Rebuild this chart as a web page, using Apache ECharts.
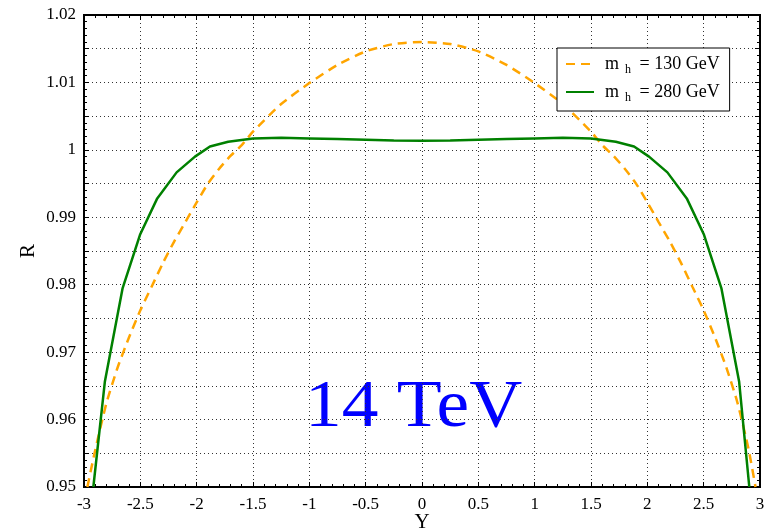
<!DOCTYPE html>
<html><head><meta charset="utf-8">
<script src="https://cdn.jsdelivr.net/npm/echarts@6/dist/echarts.min.js"></script>
<style>html,body{margin:0;padding:0;background:#fff;overflow:hidden}#c{width:767px;height:531px}</style>
</head><body><div id="c"></div>
<script>
// Tick labels
const xTicks = [-3, -2.5, -2, -1.5, -1, -0.5, 0, 0.5, 1, 1.5, 2, 2.5, 3];
const yTicks = [0.95, 0.96, 0.97, 0.98, 0.99, 1, 1.01, 1.02];
// Series: m_h = 130 GeV (dashed orange)
const orangeX = [-2.97, -2.9, -2.8, -2.7, -2.6, -2.5, -2.4, -2.3, -2.2, -2.1, -2.0, -1.9, -1.8, -1.7, -1.6, -1.5, -1.25, -1, -0.75, -0.5, -0.25, 0,
                 0.25, 0.5, 0.75, 1, 1.25, 1.5, 1.6, 1.7, 1.8, 1.9, 2.0, 2.1, 2.2, 2.3, 2.4, 2.5, 2.6, 2.7, 2.8, 2.9, 2.96];
const orangeY = [0.9500, 0.9555, 0.9625, 0.9678, 0.9722, 0.9762, 0.9797, 0.9832, 0.9864, 0.9893, 0.9922, 0.9950, 0.9972, 0.9991, 1.0007, 1.0027, 1.0068, 1.0099, 1.0126, 1.0146, 1.0157, 1.0160,
                 1.0157, 1.0146, 1.0126, 1.0099, 1.0068, 1.0027, 1.0007, 0.9991, 0.9972, 0.9950, 0.9922, 0.9893, 0.9864, 0.9832, 0.9797, 0.9762, 0.9722, 0.9678, 0.9625, 0.9555, 0.9500];
// Series: m_h = 280 GeV (solid green)
const greenX = [-2.917, -2.815, -2.657, -2.503, -2.35, -2.178, -2.015, -1.882, -1.72, -1.5, -1.25, -1, -0.75, -0.5, -0.25, 0,
                0.25, 0.5, 0.75, 1, 1.25, 1.5, 1.72, 1.882, 2.015, 2.178, 2.35, 2.503, 2.657, 2.815, 2.905];
const greenY = [0.950, 0.9656, 0.9795, 0.9874, 0.9928, 0.99666, 0.9990, 1.0005, 1.0012, 1.0017, 1.0018, 1.0017, 1.0016, 1.0015, 1.0014, 1.00136,
                1.0014, 1.0015, 1.0016, 1.0017, 1.0018, 1.0017, 1.0012, 1.0005, 0.9990, 0.99666, 0.9928, 0.9874, 0.9795, 0.9656, 0.950];
const seriesNames = ['m_h = 130 GeV', 'm_h = 280 GeV'];

const FONT = 'Liberation Serif';
const zip = (a, b) => a.map((v, i) => [v, b[i]]);
const fmtY = v => {
  const r = Math.round(v * 1000);
  if (r % 10 !== 0) return '';
  const s = parseFloat((r / 1000).toFixed(2)).toString();
  return yTicks.some(t => Math.abs(t - r / 1000) < 1e-6) ? s : '';
};
const fmtX = v => {
  const s = parseFloat(v.toFixed(2));
  return xTicks.some(t => Math.abs(t - s) < 1e-6) ? String(s) : '';
};
const gridLine = {show: true, lineStyle: {color: '#333', type: [1, 3], width: 1}};
const tickStyle = {
  axisTick: {show: true, inside: true, length: 5, lineStyle: {color: '#000'}},
  minorTick: {show: true, splitNumber: 5, length: 3, lineStyle: {color: '#000'}}
};
const chart = echarts.init(document.getElementById('c'), null, {width: 767, height: 531});
chart.setOption({
  animation: false,
  backgroundColor: '#fff',
  grid: {left: 84, right: 7, top: 15, bottom: 44, outerBoundsMode: 'none', containLabel: false,
         show: true, borderColor: '#000', borderWidth: 2, backgroundColor: 'transparent'},
  legend: {
    orient: 'vertical', left: 557, top: 48,
    data: seriesNames,
    backgroundColor: '#fff', borderColor: '#000', borderWidth: 1, borderRadius: 0,
    padding: [7, 10, 7, 8], itemGap: 7, itemWidth: 28, itemHeight: 16,
    itemStyle: {opacity: 0},
    formatter: n => {
      const p = n.split('_h');
      return '{m|' + p[0] + '}{s|h}{m|' + p[1] + '}';
    },
    textStyle: {
      fontFamily: FONT, color: '#000', padding: [0, 0, 0, 6],
      rich: {
        m: {fontFamily: FONT, fontSize: 18, color: '#000'},
        s: {fontFamily: FONT, fontSize: 12, color: '#000', padding: [12, 4, 0, 6]}
      }
    }
  },
  xAxis: [Object.assign({
    type: 'value', min: -3, max: 3, interval: 0.5,
    name: 'Y', nameLocation: 'middle', nameGap: 25, nameMoveOverlap: false,
    nameTextStyle: {fontFamily: FONT, fontSize: 21, color: '#000'},
    axisLine: {show: true, onZero: false, lineStyle: {color: '#000', width: 2}},
    axisLabel: {fontFamily: FONT, fontSize: 17, color: '#000', margin: 9, formatter: fmtX},
    splitLine: gridLine
  }, tickStyle), Object.assign({
    type: 'value', position: 'top', min: -3, max: 3, interval: 0.5,
    axisLine: {show: true, onZero: false, lineStyle: {color: '#000', width: 2}},
    axisLabel: {show: false}, splitLine: {show: false}
  }, tickStyle)],
  yAxis: [Object.assign({
    type: 'value', min: 0.95, max: 1.02, interval: 0.005,
    name: 'R', nameLocation: 'middle', nameGap: 45, nameMoveOverlap: false,
    nameTextStyle: {fontFamily: FONT, fontSize: 21, color: '#000'},
    axisLine: {show: true, onZero: false, lineStyle: {color: '#000', width: 2}},
    axisLabel: {fontFamily: FONT, fontSize: 17, color: '#000', margin: 8, formatter: fmtY, showMinLabel: true, showMaxLabel: true},
    splitLine: gridLine
  }, tickStyle), Object.assign({
    type: 'value', position: 'right', min: 0.95, max: 1.02, interval: 0.005,
    axisLine: {show: true, onZero: false, lineStyle: {color: '#000', width: 2}},
    axisLabel: {show: false}, splitLine: {show: false}
  }, tickStyle)],
  graphic: [{
    type: 'text', x: 305, y: 374, scaleX: 1.08, silent: true,
    style: {text: '14 TeV', fontFamily: FONT, fontSize: 68, fill: '#0000ff', textAlign: 'left', textVerticalAlign: 'top'}
  }],
  series: [{
    name: seriesNames[0], type: 'line', data: zip(orangeX, orangeY), smooth: 0.2,
    showSymbol: false, symbol: 'none', clip: true,
    lineStyle: {color: '#ffa500', width: 2.5, type: [9, 6]}, itemStyle: {color: '#ffa500'}
  }, {
    name: seriesNames[1], type: 'line', data: zip(greenX, greenY), smooth: false,
    showSymbol: false, symbol: 'none', clip: true,
    lineStyle: {color: '#008000', width: 2.5}, itemStyle: {color: '#008000'}
  }]
});
</script></body></html>
